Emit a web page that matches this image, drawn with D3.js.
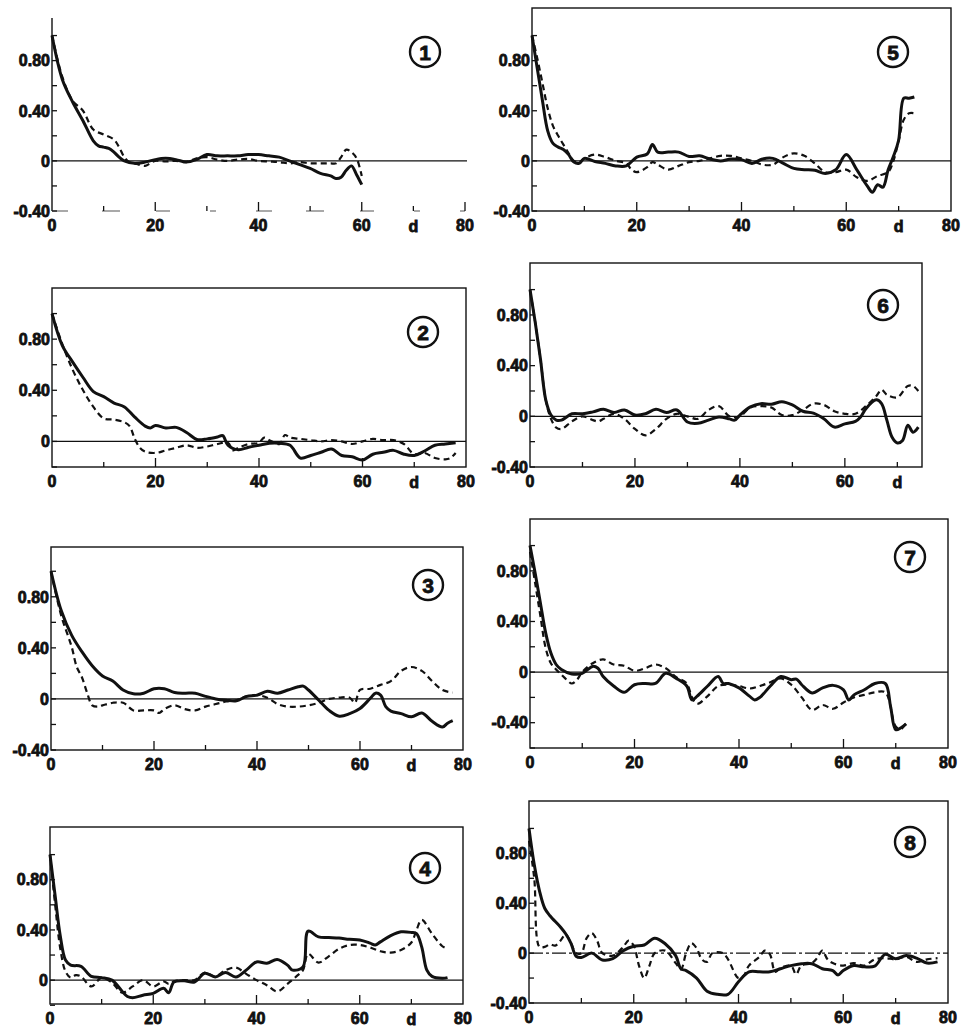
<!DOCTYPE html>
<html lang="en">
<head>
<meta charset="UTF-8">
<title>Autocorrelation panels</title>
<script src="https://d3js.org/d3.v7.min.js"></script>
<style>
  body { margin: 0; background: #fff; }
  svg { display: block; }
  .lbl { font-family: "Liberation Sans", Arial, sans-serif; font-weight: bold; font-size: 16px; fill: #111; stroke: #111; stroke-width: 0.8; }
  .num { font-family: "Liberation Sans", Arial, sans-serif; font-weight: bold; font-size: 21px; fill: #111; stroke: #111; stroke-width: 0.8; }
  .solid { fill: none; stroke: #111; stroke-width: 3; stroke-linejoin: round; }
  .dashed { fill: none; stroke: #111; stroke-width: 2.2; stroke-dasharray: 6 4; }
  .zero { stroke: #111; stroke-width: 1.2; }
  .frame { fill: none; stroke: #111; stroke-width: 1.4; }
  .tick { stroke: #111; stroke-width: 1.3; }
</style>
</head>
<body>
<svg id="chart" width="969" height="1027"></svg>
<script>
// values: [lag d, coefficient]
const solid1 = [[0,1.0],[2,0.65],[4,0.47],[6,0.32],[8,0.16],[9,0.12],[10,0.11],[11,0.10],[12,0.07],[13,0.03],[14,0],[16,-0.02],[18,-0.01],[20,0.01],[22,0.02],[24,0.01],[26,-0.01],[28,0.01],[30,0.05],[32,0.04],[34,0.04],[36,0.04],[38,0.05],[40,0.05],[42,0.04],[44,0.03],[46,0],[48,-0.03],[50,-0.06],[52,-0.10],[54,-0.12],[55,-0.14],[56,-0.13],[57,-0.075],[58,-0.04],[59,-0.11],[60,-0.19]];
const dashed1 = [[0,1.0],[2,0.67],[4,0.48],[6,0.40],[8,0.25],[10,0.21],[12,0.17],[13,0.11],[14,0.03],[15,-0.01],[16,-0.02],[18,-0.04],[19,-0.02],[20,0],[22,-0.005],[24,0],[26,-0.01],[28,0.02],[30,0.03],[32,0.01],[34,0],[36,0.01],[38,0.015],[40,0],[42,-0.005],[44,-0.01],[46,-0.02],[48,-0.01],[50,-0.02],[52,-0.02],[54,-0.02],[55,-0.02],[56,0.03],[57,0.09],[58,0.07],[59,0.02],[60,-0.12]];

const solid2 = [[0,1.0],[2,0.75],[4,0.62],[6,0.50],[8,0.39],[10,0.35],[12,0.30],[14,0.27],[16,0.19],[18,0.12],[19,0.105],[20,0.125],[22,0.105],[24,0.11],[26,0.07],[28,0.015],[30,0.02],[32,0.035],[33,0.045],[34,-0.03],[36,-0.065],[38,-0.045],[40,-0.03],[42,-0.015],[44,-0.015],[46,-0.03],[48,-0.13],[50,-0.11],[52,-0.085],[54,-0.06],[56,-0.11],[58,-0.12],[60,-0.145],[62,-0.10],[64,-0.085],[66,-0.07],[68,-0.10],[70,-0.11],[72,-0.075],[74,-0.03],[76,-0.02],[78,-0.01]];
const dashed2 = [[0,1.0],[2,0.76],[4,0.56],[6,0.40],[8,0.27],[10,0.18],[12,0.17],[14,0.15],[15,0.12],[16,0.02],[17,-0.05],[18,-0.08],[20,-0.09],[22,-0.07],[24,-0.05],[26,-0.03],[28,-0.05],[30,-0.04],[32,-0.02],[34,-0.01],[35,-0.07],[36,-0.05],[38,-0.02],[40,-0.01],[41,0.03],[42,0.01],[44,-0.02],[45,0.05],[46,0.03],[48,0.02],[50,0.01],[52,0],[54,0.01],[56,0],[58,-0.02],[60,0],[62,0.02],[64,0.01],[66,0.01],[68,-0.02],[70,-0.10],[72,-0.09],[74,-0.13],[76,-0.14],[77,-0.13],[78,-0.09]];

const solid3 = [[0,1.0],[2,0.69],[4,0.50],[6,0.37],[8,0.26],[10,0.18],[12,0.14],[14,0.07],[16,0.04],[18,0.045],[20,0.08],[22,0.08],[24,0.05],[26,0.045],[28,0.045],[30,0.02],[32,0],[34,-0.01],[36,-0.015],[38,0.02],[40,0.03],[42,0.06],[44,0.045],[46,0.07],[48,0.095],[49,0.10],[50,0.07],[52,-0.01],[54,-0.09],[56,-0.135],[58,-0.115],[60,-0.075],[62,0.005],[63,0.045],[64,0.03],[65,-0.06],[66,-0.095],[68,-0.115],[70,-0.14],[72,-0.11],[74,-0.175],[76,-0.22],[77,-0.19],[78,-0.17]];
const dashed3 = [[0,1.0],[2,0.65],[4,0.41],[5,0.25],[6,0.17],[7,0.05],[8,-0.05],[9,-0.06],[10,-0.05],[12,-0.03],[14,-0.03],[16,-0.09],[18,-0.09],[20,-0.09],[21,-0.11],[22,-0.08],[24,-0.05],[26,-0.08],[28,-0.09],[30,-0.06],[32,-0.04],[34,-0.02],[36,-0.01],[38,0.02],[40,0.03],[42,0.01],[44,-0.04],[46,-0.06],[48,-0.06],[50,-0.05],[52,-0.03],[54,0],[56,0.01],[58,0.01],[59,-0.03],[60,0.07],[62,0.08],[64,0.11],[66,0.14],[68,0.22],[70,0.25],[72,0.22],[74,0.14],[76,0.07],[78,0.05]];

const solid4 = [[0,1.0],[1,0.67],[2,0.35],[3,0.16],[4,0.12],[6,0.11],[8,0.03],[10,0.02],[12,0],[14,-0.09],[15,-0.13],[16,-0.14],[18,-0.12],[20,-0.105],[22,-0.065],[23,-0.10],[24,-0.015],[26,-0.005],[28,-0.015],[30,0.055],[32,0.025],[34,0.06],[36,0.025],[38,0.08],[40,0.145],[42,0.135],[44,0.165],[46,0.12],[47,0.08],[49,0.105],[50,0.39],[52,0.345],[54,0.34],[56,0.335],[58,0.325],[60,0.32],[62,0.295],[63,0.28],[64,0.305],[66,0.355],[68,0.385],[70,0.38],[71,0.37],[72,0.265],[73,0.08],[74,0.03],[76,0.015],[77,0.02]];
const dashed4 = [[0,1.0],[1,0.60],[2,0.25],[3,0.07],[4,0.02],[5,0.04],[6,0.03],[8,-0.05],[10,0.02],[12,-0.02],[14,-0.10],[16,-0.05],[18,0],[20,-0.05],[22,-0.01],[23,-0.03],[24,-0.01],[26,0],[28,0],[30,0.06],[32,0.03],[34,0.08],[36,0.10],[38,0.05],[40,0],[42,-0.04],[44,-0.09],[46,-0.03],[48,0.04],[49,0.08],[50,0.21],[52,0.14],[54,0.19],[56,0.25],[58,0.28],[60,0.28],[62,0.26],[64,0.23],[66,0.22],[68,0.24],[70,0.30],[71,0.40],[72,0.48],[74,0.37],[76,0.27],[77,0.25]];

const solid5 = [[0,1.0],[1,0.74],[2,0.48],[3,0.24],[4,0.14],[5,0.11],[6,0.09],[7,0.05],[8,-0.01],[9,-0.02],[10,0.02],[12,-0.005],[14,-0.02],[16,-0.04],[18,-0.04],[20,0.03],[22,0.055],[23,0.13],[24,0.07],[26,0.07],[28,0.07],[30,0.035],[32,0.04],[34,0.015],[36,0],[38,0.015],[40,0.01],[42,-0.02],[44,0.015],[46,0.02],[48,-0.02],[50,-0.06],[52,-0.07],[54,-0.075],[56,-0.10],[58,-0.07],[60,0.05],[62,-0.07],[64,-0.20],[65,-0.25],[66,-0.19],[67,-0.21],[68,-0.07],[69,0.035],[70,0.165],[71,0.50],[72,0.50],[73,0.51]];
const dashed5 = [[0,1.0],[1,0.82],[2,0.62],[3,0.42],[4,0.28],[5,0.20],[6,0.13],[7,0.06],[8,0],[9,-0.01],[10,0.02],[12,0.05],[14,0.03],[16,0],[18,-0.02],[19,-0.07],[20,-0.09],[22,-0.05],[23,-0.01],[24,-0.03],[26,-0.07],[28,-0.04],[30,-0.01],[32,0],[34,0.02],[36,0.04],[38,0.04],[40,0.02],[42,0],[44,-0.03],[46,-0.03],[48,0.03],[50,0.06],[52,0.04],[54,-0.02],[56,-0.09],[58,-0.09],[60,-0.07],[62,-0.13],[64,-0.16],[66,-0.12],[68,-0.09],[69,0],[70,0.16],[71,0.33],[72,0.38],[73,0.38]];

const solid6 = [[0,1.0],[1,0.74],[2,0.45],[3,0.13],[4,0.01],[5,-0.03],[6,-0.03],[8,0.02],[10,0.02],[12,0.035],[14,0.055],[16,0.03],[18,0.05],[20,0.01],[22,0.02],[24,0.055],[26,0.03],[28,0.05],[30,-0.045],[32,-0.055],[34,-0.03],[36,-0.005],[38,-0.02],[39,-0.03],[40,0.01],[42,0.075],[44,0.10],[46,0.095],[48,0.115],[50,0.09],[52,0.04],[54,0.025],[56,-0.02],[58,-0.085],[60,-0.06],[62,-0.04],[63,-0.005],[64,0.06],[66,0.13],[67,0.10],[68,-0.03],[69,-0.165],[70,-0.21],[71,-0.19],[72,-0.07],[73,-0.125],[74,-0.085]];
const dashed6 = [[0,1.0],[1,0.74],[2,0.45],[3,0.13],[4,-0.02],[5,-0.09],[6,-0.10],[8,-0.04],[10,0],[12,-0.03],[13,-0.04],[14,-0.02],[16,0.02],[18,-0.02],[20,-0.10],[22,-0.15],[24,-0.10],[26,-0.02],[28,0.02],[30,0],[32,-0.02],[34,0.05],[36,0.08],[38,0],[40,0],[42,0.07],[44,0.08],[46,0.07],[48,0.01],[50,0.01],[52,0.05],[54,0.10],[56,0.09],[58,0.04],[60,0.02],[62,0.02],[64,0.08],[66,0.16],[67,0.21],[68,0.17],[70,0.15],[72,0.24],[73,0.24],[74,0.20]];

const solid7 = [[0,1.0],[1,0.78],[2,0.545],[3,0.31],[4,0.15],[5,0.06],[6,0.02],[8,-0.015],[10,-0.01],[12,0.045],[13,0.03],[14,-0.035],[16,-0.11],[18,-0.16],[20,-0.10],[22,-0.09],[24,-0.09],[26,-0.01],[28,-0.05],[30,-0.11],[31,-0.22],[32,-0.19],[34,-0.11],[36,-0.035],[37,-0.09],[38,-0.09],[40,-0.125],[42,-0.19],[43,-0.22],[44,-0.20],[46,-0.11],[48,-0.035],[50,-0.06],[51,-0.055],[52,-0.10],[54,-0.165],[56,-0.125],[58,-0.105],[60,-0.14],[61,-0.22],[62,-0.18],[64,-0.14],[66,-0.09],[68,-0.09],[69,-0.27],[70,-0.455],[71,-0.44],[72,-0.41]];
const dashed7 = [[0,0.95],[1,0.70],[2,0.44],[3,0.19],[4,0.07],[5,0.02],[6,-0.02],[7,-0.06],[8,-0.09],[9,-0.06],[10,0],[12,0.07],[14,0.10],[16,0.06],[18,0.05],[20,0.01],[22,0.03],[24,0.06],[26,0.03],[28,-0.04],[30,-0.09],[31,-0.20],[32,-0.25],[34,-0.19],[36,-0.11],[38,-0.10],[40,-0.11],[42,-0.13],[44,-0.11],[46,-0.08],[48,-0.05],[50,-0.10],[52,-0.20],[54,-0.30],[56,-0.26],[58,-0.29],[60,-0.24],[62,-0.20],[64,-0.18],[66,-0.16],[68,-0.16],[70,-0.43],[71,-0.45],[72,-0.40]];

const solid8 = [[0,1.0],[1,0.71],[2,0.50],[3,0.36],[4,0.30],[6,0.21],[7,0.155],[8,0.08],[9,-0.025],[10,-0.035],[12,0],[14,-0.055],[16,-0.045],[18,0.02],[20,0.055],[22,0.065],[24,0.12],[26,0.075],[28,-0.02],[29,-0.125],[30,-0.14],[32,-0.20],[34,-0.305],[36,-0.33],[38,-0.33],[40,-0.23],[42,-0.15],[44,-0.15],[46,-0.15],[48,-0.125],[50,-0.10],[52,-0.085],[54,-0.085],[56,-0.125],[58,-0.14],[59,-0.175],[60,-0.14],[62,-0.10],[64,-0.11],[66,-0.105],[68,-0.01],[70,-0.045],[72,-0.02],[74,-0.04],[76,-0.08],[78,-0.07]];
const dashed8 = [[0,0.90],[1,0.60],[2,0.05],[3,0.05],[4,0.07],[5,0.06],[6,0.10],[7,0.15],[8,0.08],[9,0],[10,0],[11,0.12],[12,0.16],[13,0.10],[14,0],[16,-0.02],[18,0.05],[19,0.10],[20,0.06],[21,-0.10],[22,-0.20],[23,-0.10],[24,0],[26,0.02],[28,-0.08],[29,-0.13],[30,0],[31,0.08],[32,0.04],[33,-0.05],[34,-0.07],[35,0],[37,0],[38,-0.05],[40,-0.20],[41,-0.18],[42,-0.10],[44,-0.03],[45,0.02],[46,-0.01],[47,-0.15],[48,-0.12],[50,-0.10],[51,-0.17],[52,-0.10],[54,-0.08],[55,-0.04],[56,0.02],[57,-0.05],[58,-0.08],[60,-0.10],[62,-0.08],[64,-0.10],[66,-0.05],[68,-0.04],[70,-0.05],[72,-0.03],[74,-0.07],[76,-0.05],[78,-0.04]];

const yLabelValues = [0.8, 0.4, 0, -0.4];
const xLabelValues = [0, 20, 40, 60, 80];
const panelNames = ["1", "2", "3", "4", "5", "6", "7", "8"];

// panel frames (pixels) and axis extents
const panels = [
  {name: panelNames[0], solid: solid1, dashed: dashed1, left: 52, right: 465, xMax: 80, top: 18, bottom: 211, yMin: -0.4, yMax: 1.14, box: false, badge: [425, 52]},
  {name: panelNames[1], solid: solid2, dashed: dashed2, left: 52, right: 466, xMax: 80, top: 288, bottom: 467, yMin: -0.2, yMax: 1.2, box: true, badge: [423, 332]},
  {name: panelNames[2], solid: solid3, dashed: dashed3, left: 51, right: 463, xMax: 80, top: 547, bottom: 750, yMin: -0.4, yMax: 1.19, box: true, badge: [428, 585]},
  {name: panelNames[3], solid: solid4, dashed: dashed4, left: 50, right: 463, xMax: 80, top: 827, bottom: 1004, yMin: -0.19, yMax: 1.22, box: true, badge: [425, 868]},
  {name: panelNames[4], solid: solid5, dashed: dashed5, left: 532, right: 951, xMax: 80, top: 8, bottom: 211, yMin: -0.4, yMax: 1.22, box: true, badge: [893, 52]},
  {name: panelNames[5], solid: solid6, dashed: dashed6, left: 530, right: 922, xMax: 74.7, top: 263, bottom: 467, yMin: -0.4, yMax: 1.21, box: true, badge: [883, 305]},
  {name: panelNames[6], solid: solid7, dashed: dashed7, left: 530, right: 948, xMax: 80, top: 519, bottom: 748, yMin: -0.6, yMax: 1.21, box: true, badge: [910, 557]},
  {name: panelNames[7], solid: solid8, dashed: dashed8, left: 529, right: 948, xMax: 80, top: 801, bottom: 1003, yMin: -0.4, yMax: 1.22, box: true, badge: [910, 842], brokenZero: true}
];

const svg = d3.select("#chart");

panels.forEach(p => {
  const x = d3.scaleLinear().domain([0, p.xMax]).range([p.left, p.right]);
  const y = d3.scaleLinear().domain([p.yMin, p.yMax]).range([p.bottom, p.top]);
  const g = svg.append("g");

  // frame / axes
  if (p.box) {
    g.append("rect").attr("class", "frame")
      .attr("x", p.left).attr("y", p.top)
      .attr("width", p.right - p.left).attr("height", p.bottom - p.top);
  } else {
    // first panel: only the left axis and a faint, broken bottom axis
    g.append("line").attr("class", "frame")
      .attr("x1", p.left).attr("x2", p.left).attr("y1", p.top).attr("y2", p.bottom);
    g.append("line").attr("stroke", "#555").attr("stroke-width", 1.2)
      .attr("stroke-dasharray", "16 34 18 36 14 40 6 40")
      .attr("x1", p.left).attr("x2", p.right).attr("y1", p.bottom).attr("y2", p.bottom);
    g.append("line").attr("class", "tick")
      .attr("x1", p.right).attr("x2", p.right).attr("y1", p.bottom).attr("y2", p.bottom - 9);
  }

  // zero line
  g.append("line").attr("class", "zero")
    .attr("x1", x(0)).attr("x2", p.right + (p.box ? 0 : 2))
    .attr("y1", y(0)).attr("y2", y(0))
    .attr("stroke-dasharray", p.brokenZero ? "14 3 3 3" : null);

  // y ticks every 0.2, pointing inwards
  const yTicks = d3.range(-0.6, 1.01, 0.2).filter(v => v >= p.yMin - 0.01);
  g.selectAll(".ytick").data(yTicks).join("line").attr("class", "tick")
    .attr("x1", p.left).attr("x2", p.left + 5)
    .attr("y1", d => y(d)).attr("y2", d => y(d));

  // x ticks every 10, pointing up
  const xTicks = d3.range(10, p.xMax - 0.5, 10);
  g.selectAll(".xtick").data(xTicks).join("line").attr("class", "tick")
    .attr("x1", d => x(d)).attr("x2", d => x(d))
    .attr("y1", p.bottom).attr("y2", d => p.bottom - (d % 20 === 0 ? 9 : 5));

  // y labels
  g.selectAll(".ylab").data(yLabelValues.filter(v => v >= p.yMin - 0.01)).join("text")
    .attr("class", "lbl")
    .attr("x", p.left - 2).attr("y", d => y(d))
    .attr("dy", "0.36em").attr("text-anchor", "end")
    .text(d => d === 0 ? "0" : d.toFixed(2));

  // x labels
  g.selectAll(".xlab").data(xLabelValues.filter(v => v <= p.xMax)).join("text")
    .attr("class", "lbl")
    .attr("x", d => x(d)).attr("y", p.bottom + 20)
    .attr("text-anchor", "middle")
    .text(d => d);
  g.append("text").attr("class", "lbl")
    .attr("x", x(70)).attr("y", p.bottom + 21)
    .attr("text-anchor", "middle").text("d");

  // curves
  const line = d3.line().x(d => x(d[0])).y(d => y(d[1])).curve(d3.curveCatmullRom.alpha(0.5));
  g.append("path").attr("class", "dashed").attr("d", line(p.dashed));
  g.append("path").attr("class", "solid").attr("d", line(p.solid));

  // circled panel number
  g.append("circle").attr("cx", p.badge[0]).attr("cy", p.badge[1]).attr("r", 15)
    .attr("fill", "none").attr("stroke", "#111").attr("stroke-width", 2.4);
  g.append("text").attr("class", "num")
    .attr("x", p.badge[0]).attr("y", p.badge[1]).attr("dy", "0.36em")
    .attr("text-anchor", "middle").text(p.name);
});
</script>
</body>
</html>
